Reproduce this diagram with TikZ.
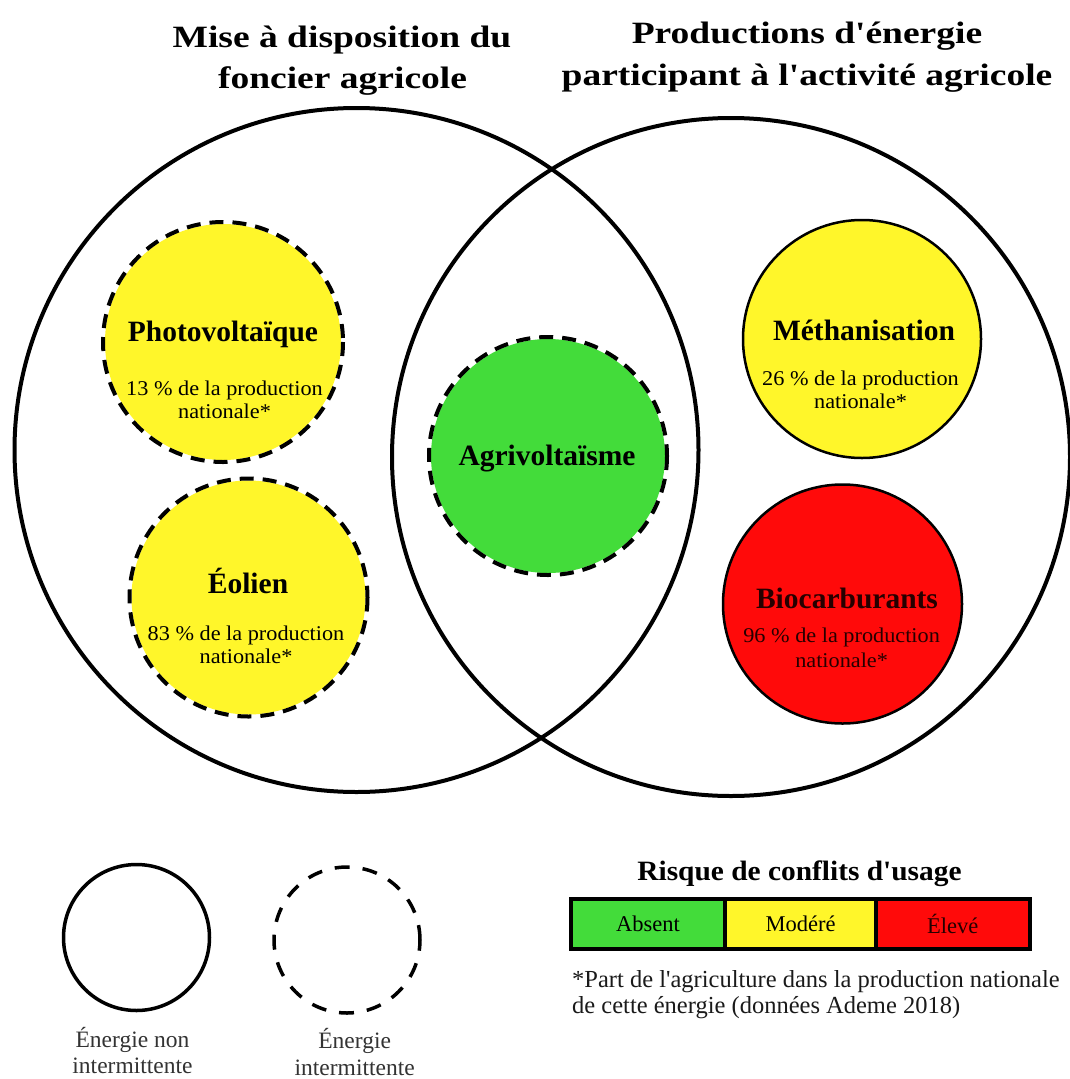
\documentclass[tikz,border=0pt]{standalone}
\usepackage{fontspec}
\setmainfont[Ligatures=TeXOff]{Liberation Serif}
\usepackage{graphicx}
\definecolor{cyel}{HTML}{FFF62A}
\definecolor{cgrn}{HTML}{43DC3A}
\definecolor{cred}{HTML}{FF0A0A}
\definecolor{ctxt}{HTML}{1A1A1A}
\newcommand{\pxsize}[1]{\fontsize{#1}{#1}\selectfont}
\begin{document}
\begin{tikzpicture}[x=1pt,y=-1pt,
  bigring/.style={circle, draw=black, line width=4pt, inner sep=0pt, outer sep=0pt},
  disc/.style={circle, inner sep=0pt, outer sep=0pt},
  dashring/.style={draw=black, line width=4pt, dash pattern=on 14pt off 9pt},
  solidring/.style={draw=black, line width=2.5pt},
  titletxt/.style={anchor=base, inner sep=0pt, font=\bfseries\pxsize{31}},
  labtxt/.style={anchor=base, inner sep=0pt, font=\bfseries\pxsize{29.5}},
  subtxt/.style={anchor=base, inner sep=0pt, font=\pxsize{21}},
  cell/.style={rectangle, draw=black, line width=4pt, minimum height=50, inner sep=0pt, font=\pxsize{22.5}},
  foot/.style={anchor=base west, inner sep=0pt, text=ctxt, font=\pxsize{24.5}},
  legtxt/.style={anchor=base, inner sep=0pt, text=black!80, font=\pxsize{23.5}}
]
\useasboundingbox[fill=white] (0,0) rectangle (1070,1079);

% titles
\node[titletxt] (tl1) at (342,47) {\scalebox{1.21}[1]{Mise à disposition du}};
\node[titletxt] (tl2) at (342.5,88) {\scalebox{1.21}[1]{foncier agricole}};
\node[titletxt] (tr1) at (807,43) {\scalebox{1.21}[1]{Productions d'énergie}};
\node[titletxt] (tr2) at (807,85) {\scalebox{1.21}[1]{participant à l'activité agricole}};

% big circles
\node[bigring, minimum size=684] (L) at (356.5,450) {};
\node[bigring, minimum size=678] (R) at (731,457) {};

% Photovoltaique
\node[disc, fill=cyel, minimum size=236] (pv) at (223,342) {};
\draw[dashring] (pv.center) circle[radius=120];
\node[labtxt] (pvT) at (223,341) {Photovoltaïque};
\node[subtxt] (pvS1) at (224.5,395) {\scalebox{1.06}[1]{13 \% de la production}};
\node[subtxt] (pvS2) at (224.5,418) {\scalebox{1.06}[1]{nationale*}};

% Eolien
\node[disc, fill=cyel, minimum size=234] (eo) at (248.5,597.5) {};
\draw[dashring] (eo.center) circle[radius=119];
\node[labtxt] (eoT) at (248,593) {Éolien};
\node[subtxt] (eoS1) at (246,640) {\scalebox{1.06}[1]{83 \% de la production}};
\node[subtxt] (eoS2) at (246,663) {\scalebox{1.06}[1]{nationale*}};

% Agrivoltaisme
\node[disc, fill=cgrn, minimum size=234] (ag) at (548,456) {};
\draw[dashring] (ag.center) circle[radius=119];
\node[labtxt] (agT) at (547,465) {Agrivoltaïsme};

% Methanisation
\node[disc, fill=cyel, solidring, minimum size=238] (me) at (862,339) {};
\node[labtxt] (meT) at (864,340) {Méthanisation};
\node[subtxt] (meS1) at (860.5,385) {\scalebox{1.06}[1]{26 \% de la production}};
\node[subtxt] (meS2) at (860.5,408) {\scalebox{1.06}[1]{nationale*}};

% Biocarburants
\node[disc, fill=cred, solidring, minimum size=239] (bi) at (842.5,604) {};
\node[labtxt, text=black!85!red] (biT) at (847,608) {Biocarburants};
\node[subtxt, text=black!85!red] (biS1) at (841.6,642) {\scalebox{1.06}[1]{96 \% de la production}};
\node[subtxt, text=black!85!red] (biS2) at (841.6,667) {\scalebox{1.06}[1]{nationale*}};

% legend circles
\node[disc, draw=black, line width=3.5pt, minimum size=146] (legS) at (136.5,937.5) {};
\node[disc, draw=black, line width=3.5pt, dash pattern=on 15pt off 13pt, minimum size=146] (legD) at (347,940) {};
\node[legtxt] (legS1) at (132.5,1047) {Énergie non};
\node[legtxt] (legS2) at (132.5,1073) {intermittente};
\node[legtxt] (legD1) at (354.7,1048) {Énergie};
\node[legtxt] (legD2) at (354.7,1075) {intermittente};

% risk legend
\node[anchor=base, inner sep=0pt, font=\bfseries\pxsize{28}] (rk) at (799.5,880) {\scalebox{1.05}[1]{Risque de conflits d'usage}};
\node[cell, fill=cgrn, minimum width=154] (c1) at (648,924) {Absent};
\node[cell, fill=cyel, minimum width=151] (c2) at (800.5,924) {Modéré};
\node[cell, fill=cred, minimum width=153.5] (c3) at (952.75,924) {\textcolor{black!85!red}{Élevé}};

% footnote
\node[foot] (f1) at (572,987) {*Part de l'agriculture dans la production nationale};
\node[foot] (f2) at (572,1013) {de cette énergie (données Ademe 2018)};
\end{tikzpicture}
\end{document}
